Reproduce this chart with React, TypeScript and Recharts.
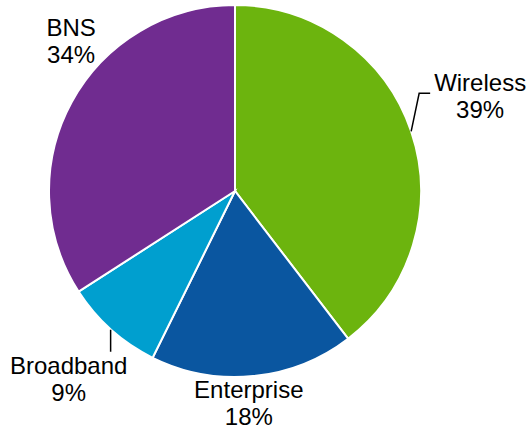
import React from "react";
import { PieChart, Pie, Cell } from "recharts";

const categories = ["Wireless", "Enterprise", "Broadband", "BNS"];
const shares = [39.6, 17.7, 8.6, 34.1];
const percentLabels = ["39%", "18%", "9%", "34%"];
const colors = ["#6cb40e", "#0a56a0", "#009fcf", "#702c90"];

const data = categories.map((name, i) => ({ name, value: shares[i], pct: percentLabels[i] }));

const RAD = Math.PI / 180;

// label placement settings (distance beyond outer radius, pixel nudge)
const labelCfg: Record<string, { r: number; dx: number; dy: number }> = {
  Wireless: { r: 76, dx: -3, dy: -10 },
  Enterprise: { r: 28, dx: -7, dy: 0 },
  Broadband: { r: 66, dx: 1.5, dy: 1 },
  BNS: { r: 36, dx: 31, dy: -43 },
};

const renderLabel = (props: any) => {
  const { cx, cy, midAngle, outerRadius, name, payload } = props;
  const cfg = labelCfg[name];
  const r = outerRadius + cfg.r;
  const x = cx + r * Math.cos(-midAngle * RAD) + cfg.dx;
  const yc = cy + r * Math.sin(-midAngle * RAD) + cfg.dy;
  const ex = cx + outerRadius * Math.cos(-midAngle * RAD);
  const ey = cy + outerRadius * Math.sin(-midAngle * RAD);
  let leader: React.ReactNode = null;
  if (name === "Wireless") {
    leader = (
      <polyline
        points={`${ex},${ey} ${ex + 8},${ey - 38} ${ex + 19},${ey - 38}`}
        fill="none"
        stroke="#000"
        strokeWidth={1.5}
      />
    );
  } else if (name === "Broadband") {
    leader = (
      <line x1={ex - 0.5} y1={ey} x2={ex - 0.5} y2={ey + 22} stroke="#000" strokeWidth={1.5} />
    );
  }
  const pct = payload && payload.pct ? payload.pct : props.pct;
  return (
    <g>
      {leader}
      <text
        x={x}
        y={yc - 5.5}
        textAnchor="middle"
        fill="#000"
        fontFamily="'Liberation Sans', Arial, sans-serif"
        fontSize={24}
      >
        <tspan x={x}>{name}</tspan>
        <tspan x={x} dy={27}>{pct}</tspan>
      </text>
    </g>
  );
};

export default function App() {
  return (
    <div style={{ position: "absolute", left: 0, top: 0, width: 532, height: 431, background: "#fff" }}>
      <PieChart width={532} height={431} margin={{ top: 0, right: 0, bottom: 0, left: 0 }}>
        <Pie
          data={data}
          dataKey="value"
          nameKey="name"
          cx={235}
          cy={191}
          outerRadius={186}
          startAngle={90}
          endAngle={-270}
          stroke="#fff"
          strokeWidth={2}
          label={renderLabel}
          labelLine={false}
          isAnimationActive={false}
        >
          {data.map((d, i) => (
            <Cell key={d.name} fill={colors[i]} />
          ))}
        </Pie>
      </PieChart>
    </div>
  );
}
